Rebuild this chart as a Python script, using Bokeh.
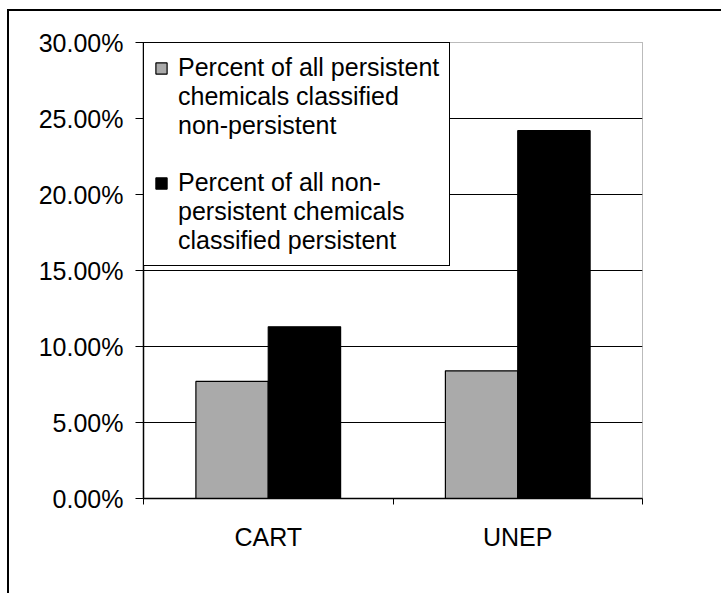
from bokeh.plotting import figure
from bokeh.models import (Range1d, NumeralTickFormatter, FixedTicker,
                          Legend, LegendItem, LinearAxis, ColumnDataSource)
from bokeh.transform import dodge
from bokeh.embed import file_html
from bokeh.resources import INLINE

methods = ["CART", "UNEP"]
persistent_classified_nonpersistent = [0.077, 0.084]
nonpersistent_classified_persistent = [0.113, 0.242]
y_ticks = [0.0, 0.05, 0.10, 0.15, 0.20, 0.25, 0.30]
series_labels = [
    ["Percent of all persistent", "chemicals classified", "non-persistent"],
    ["Percent of all non-", "persistent chemicals", "classified persistent"],
]

FONT = "Liberation Sans"

# category slots: each category occupies one unit, centred at i + 0.5
centers = [i + 0.5 for i in range(len(methods))]
bounds = [float(i) for i in range(len(methods) + 1)]

src = ColumnDataSource(dict(pos=centers,
                            a=persistent_classified_nonpersistent,
                            b=nonpersistent_classified_persistent))

p = figure(x_range=Range1d(0, len(methods)), y_range=Range1d(0, 0.30),
           width=714, height=584, output_backend="svg", toolbar_location=None,
           x_axis_location=None, y_axis_location=None,
           min_border_left=134, min_border_top=31, min_border_right=81, min_border_bottom=97)
p.styles = {"border-left": "2px solid black", "border-top": "2px solid black",
            "margin-left": "7px", "margin-top": "9px"}

p.xgrid.grid_line_color = None
p.ygrid.grid_line_color = "black"
p.ygrid.grid_line_width = 1
p.ygrid.ticker = FixedTicker(ticks=y_ticks)
p.outline_line_color = "#777777"
p.outline_line_dash = "1 1"
p.outline_line_width = 1

r1 = p.vbar(x=dodge("pos", -0.145), top="a", width=0.29, source=src,
            fill_color="#aaaaaa", line_color="black", line_width=1.2)
r2 = p.vbar(x=dodge("pos", 0.145), top="b", width=0.29, source=src,
            fill_color="black", line_color="black", line_width=1.2)

yaxis = LinearAxis(ticker=FixedTicker(ticks=y_ticks), formatter=NumeralTickFormatter(format="0.00%"))
yaxis.axis_line_color = "black"
yaxis.axis_line_width = 1.5
yaxis.major_tick_out = 8
yaxis.major_tick_in = 0
yaxis.minor_tick_line_color = None
yaxis.major_tick_line_width = 1.2
yaxis.major_label_text_font = FONT
yaxis.major_label_text_font_size = "25px"
yaxis.major_label_text_color = "black"
yaxis.major_label_standoff = 12
p.add_layout(yaxis, "left")

xtick = LinearAxis(ticker=FixedTicker(ticks=bounds))
xtick.axis_line_color = "black"
xtick.axis_line_width = 1.5
xtick.major_tick_out = 6
xtick.major_tick_in = 0
xtick.minor_tick_line_color = None
xtick.major_label_text_font_size = "1px"
xtick.major_label_text_color = None
xtick.major_label_standoff = 0
p.add_layout(xtick, "below")

xcat = LinearAxis(ticker=FixedTicker(ticks=centers),
                  major_label_overrides={c: m for c, m in zip(centers, methods)})
xcat.axis_line_color = None
xcat.major_tick_line_color = None
xcat.minor_tick_line_color = None
xcat.major_label_text_font = FONT
xcat.major_label_text_font_size = "25px"
xcat.major_label_text_color = "black"
xcat.major_label_standoff = 12
p.add_layout(xcat, "below")

items = []
for k, (lines, rend) in enumerate(zip(series_labels, [r1, r2])):
    if k > 0:
        items.append(LegendItem(label=" ", renderers=[]))
    items.append(LegendItem(label=lines[0], renderers=[rend]))
    for ln in lines[1:]:
        items.append(LegendItem(label=ln, renderers=[]))

legend = Legend(items=items, location="top_left")
legend.margin = 0
legend.padding = 10
legend.spacing = 0
legend.border_line_color = "black"
legend.border_line_alpha = 1
legend.border_line_width = 1.5
legend.background_fill_color = "white"
legend.background_fill_alpha = 1
legend.label_text_font = FONT
legend.label_text_font_size = "25px"
legend.label_text_color = "black"
legend.label_height = 28
legend.label_text_line_height = 1.1
legend.glyph_width = 14
legend.glyph_height = 14
legend.label_standoff = 10
p.add_layout(legend, "center")

open("out.html", "w").write(file_html(p, INLINE))
